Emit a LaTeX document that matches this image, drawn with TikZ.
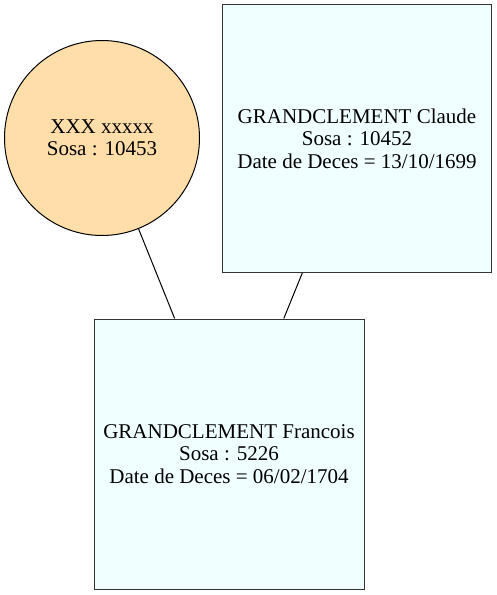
\documentclass[tikz,border=0pt]{standalone}
\usepackage{fontspec}
\setmainfont{Liberation Serif}
\usepackage{tikz}
\usepackage{xcolor}

\definecolor{boxfill}{HTML}{F0FFFF}
\definecolor{circlefill}{HTML}{FFDEAA}

\begin{document}
\begin{tikzpicture}[x=1pt, y=1pt,
  ancestor/.style={
    draw=black!80,
    fill=boxfill,
    line width=1pt,
    align=center,
    minimum width=269pt,
    minimum height=268pt,
    font=\fontsize{21}{22.5}\selectfont},
  unknown/.style={
    circle,
    draw=black,
    fill=circlefill,
    line width=1pt,
    align=center,
    inner sep=0pt,
    minimum size=195pt,
    font=\fontsize{21}{22.5}\selectfont}]
  \useasboundingbox (0,0) rectangle (496,-595);

  % Claude, the father.
  \node [ancestor] (C) at (357,-138.5)
    {GRANDCLEMENT Claude\\Sosa : 10452\\Date de Deces = 13/10/1699};

  % The mother, name unknown.
  \node [unknown] (X) at (102,-138) {XXX xxxxx\\Sosa : 10453};

  % Francois, the child.
  \node [ancestor,
    minimum width=270pt,
    minimum height=270pt] (F) at (229,-454)
    {GRANDCLEMENT Francois\\Sosa : 5226\\Date de Deces = 06/02/1704};

  % Links from the parents down to the child.
  \draw [line width=1pt] (X) -- (F);
  \draw [line width=1pt] (C) -- (F);
\end{tikzpicture}
\end{document}
